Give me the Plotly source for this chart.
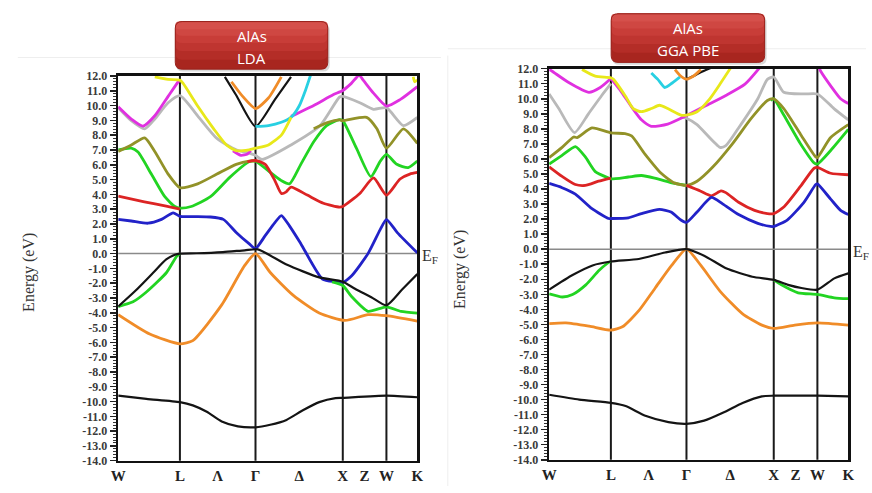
import plotly.graph_objects as go

# ---------------- k-path (high-symmetry points) ----------------
k_sym_lines = [0.707, 1.573, 2.573, 3.073]
k_tick_vals = [0.0, 0.707, 1.14, 1.573, 2.073, 2.573, 2.823, 3.073, 3.427]
k_tick_text = ["W", "L", "Λ", "Γ", "Δ", "X", "Z", "W", "K"]
k_max = 3.427
energy_ticks = list(range(-14, 13))
energy_labels = [f"{v:.1f}" for v in energy_ticks]
panel_titles = [("AlAs", "LDA"), ("AlAs", "GGA PBE")]

# ---------------- LDA bands ----------------
lda_magenta1_k = [0, 0.15, 0.284, 0.419, 0.572, 0.688, 0.707]
lda_magenta1_e = [9.92, 9.09, 8.61, 9.31, 10.62, 11.61, 11.72]
lda_magenta2_k = [1.315, 1.407, 1.481, 1.518]
lda_magenta2_e = [6.95, 6.64, 6.73, 6.95]
lda_magenta3_k = [1.98, 2.24, 2.462, 2.573, 2.671, 2.76, 2.807, 2.925, 3.073, 3.229, 3.427]
lda_magenta3_e = [9.27, 10.01, 10.73, 11.02, 11.5, 12.05, 11.72, 10.84, 9.97, 10.4, 11.28]

lda_gray_k = [0, 0.15, 0.304, 0.419, 0.572, 0.707, 0.91, 1.131, 1.352, 1.499, 1.573, 1.647,
              1.98, 2.314, 2.536, 2.573, 2.768, 2.925, 3.073, 3.267, 3.427]
lda_gray_e = [9.86, 8.98, 8.43, 9.09, 10.19, 10.67, 9.31, 7.78, 7.01, 6.79, 6.64, 6.36,
              7.34, 8.65, 10.58, 10.62, 10.19, 9.75, 9.86, 8.65, 9.2]

lda_yellow1_k = [0.419, 0.572, 0.707, 0.744, 0.91, 1.094, 1.24, 1.352, 1.499, 1.573, 1.721,
                 1.869, 1.962, 1.98]
lda_yellow1_e = [11.94, 11.77, 11.72, 11.5, 9.97, 8.43, 7.34, 6.95, 7.01, 7.12, 7.34,
                 8.0, 8.98, 9.2]
lda_yellow2_k = [3.38, 3.397, 3.427]
lda_yellow2_e = [11.95, 11.61, 11.72]

lda_cyan_k = [1.573, 1.721, 1.869, 1.98, 2.073, 2.147, 2.203]
lda_cyan_e = [8.59, 8.65, 8.87, 9.2, 9.97, 11.06, 12.04]

lda_black_top_k = [1.222, 1.352, 1.573, 1.795, 1.98]
lda_black_top_e = [11.94, 10.7, 8.59, 10.4, 11.94]

lda_orange_top_k = [1.297, 1.426, 1.573, 1.721, 1.869]
lda_orange_top_e = [11.61, 10.62, 9.8, 10.51, 11.94]

lda_olive1_k = [0, 0.15, 0.304, 0.419, 0.572, 0.707, 0.91, 1.131, 1.352, 1.499, 1.573]
lda_olive1_e = [6.9, 7.34, 7.82, 6.9, 5.37, 4.45, 4.71, 5.37, 6.03, 6.25, 6.25]
lda_olive2_k = [2.24, 2.388, 2.536, 2.573, 2.846, 2.964, 3.073, 3.267, 3.427]
lda_olive2_e = [8.43, 8.83, 9.03, 8.98, 9.2, 8.43, 7.12, 8.43, 7.45]

lda_green_k = [0, 0.15, 0.227, 0.38, 0.534, 0.649, 0.707, 0.836, 1.057, 1.278, 1.499, 1.573,
               1.721, 1.869, 1.962, 2.092, 2.24, 2.388, 2.536, 2.573, 2.729, 2.895, 3.003,
               3.073, 3.192, 3.323, 3.427]
lda_green_e = [7.01, 7.12, 6.86, 5.37, 3.84, 3.18, 3.07, 3.18, 3.84, 5.15, 6.2, 6.25,
               5.59, 4.93, 4.71, 6.03, 7.56, 8.65, 9.05, 8.98, 7.12, 5.2, 6.25,
               6.7, 6.03, 5.81, 6.25]

lda_red1_k = [0, 0.3, 0.55, 0.707]
lda_red1_e = [3.88, 3.5, 3.2, 3.0]
lda_red2_k = [1.481, 1.573, 1.684, 1.795, 1.869, 1.925, 1.98, 2.166, 2.351, 2.536, 2.573,
              2.768, 2.925, 3.073, 3.229, 3.341, 3.427]
lda_red2_e = [6.2, 6.29, 6.03, 4.93, 4.06, 4.17, 4.49, 3.95, 3.4, 3.14, 3.18,
              4.06, 5.11, 3.95, 5.04, 5.37, 5.48]

lda_blue_k = [0, 0.15, 0.342, 0.496, 0.63, 0.707, 0.873, 1.057, 1.204, 1.352, 1.499, 1.573,
              1.684, 1.795, 1.869, 1.962, 2.092, 2.34, 2.486, 2.573, 2.675, 2.865, 3.0,
              3.073, 3.2, 3.427]
lda_blue_e = [2.31, 2.2, 2.05, 2.31, 2.75, 2.52, 2.5, 2.47, 2.31, 1.43, 0.67, 0.34,
              1.21, 2.09, 2.57, 1.87, 0.67, -1.72, -1.9, -1.94, -1.5, 0.03, 1.6,
              2.3, 1.4, 0.05]

lda_black_val_k = [0, 0.2, 0.4, 0.55, 0.65, 0.707, 0.9, 1.2, 1.45, 1.6, 1.928, 2.303, 2.573,
                   2.713, 2.9, 3.073, 3.25, 3.427]
lda_black_val_e = [-3.58, -2.5, -1.3, -0.4, -0.08, 0, 0.02, 0.1, 0.22, 0.28, -0.74, -1.61, -1.9,
                   -2.38, -2.95, -3.5, -2.45, -1.39]

lda_green_val1_k = [0, 0.17, 0.323, 0.554, 0.669, 0.707]
lda_green_val1_e = [-3.58, -3.26, -2.6, -1.28, -0.19, 0]
lda_green_val2_k = [2.45, 2.573, 2.676, 2.862, 3.073, 3.24, 3.427]
lda_green_val2_e = [-1.92, -2.16, -2.92, -3.9, -3.6, -3.91, -4.02]

lda_orange_val_k = [0, 0.361, 0.707, 0.855, 1.186, 1.444, 1.573, 1.742, 2.003, 2.303, 2.6,
                    2.862, 3.073, 3.427]
lda_orange_val_e = [-4.13, -5.44, -6.1, -5.88, -3.47, -0.85, 0, -1.28, -2.81, -4.02, -4.52,
                    -4.13, -4.2, -4.57]

lda_black_low_k = [0, 0.323, 0.707, 0.855, 1.015, 1.186, 1.371, 1.573, 1.742, 1.928, 2.116,
                   2.303, 2.49, 2.573, 3.073, 3.427]
lda_black_low_e = [-9.6, -9.82, -10.04, -10.26, -10.69, -11.35, -11.68, -11.74, -11.57, -11.24,
                   -10.59, -10.04, -9.77, -9.75, -9.6, -9.71]

# ---------------- GGA PBE bands ----------------
gga_magenta1_k = [0, 0.034, 0.224, 0.456, 0.585, 0.707]
gga_magenta1_e = [11.95, 11.83, 11.08, 10.43, 10.75, 11.35]
gga_magenta2_k = [0.707, 0.831, 0.944, 1.057, 1.17, 1.358, 1.573, 1.804, 2.024, 2.243, 2.408]
gga_magenta2_e = [11.35, 10.43, 9.46, 8.6, 8.17, 8.32, 8.88, 9.57, 10.22, 10.97, 12.04]
gga_magenta3_k = [3.092, 3.111, 3.225, 3.339, 3.427]
gga_magenta3_e = [12.05, 11.83, 10.86, 10.0, 9.68]

gga_yellow_k = [0.376, 0.528, 0.707, 0.737, 0.869, 0.963, 1.057, 1.17, 1.264, 1.358, 1.509,
                1.573, 1.694, 1.84, 1.969, 2.078]
gga_yellow_e = [11.94, 11.5, 11.4, 11.29, 10.22, 9.35, 9.14, 9.35, 9.57, 9.35, 8.92,
                8.92, 9.14, 10.0, 11.08, 12.04]

gga_cyan_k = [1.17, 1.245, 1.325, 1.41, 1.5]
gga_cyan_e = [11.72, 11.29, 10.75, 11.05, 11.45]

gga_orange_top_k = [1.442, 1.5, 1.573, 1.65, 1.738]
gga_orange_top_e = [11.94, 11.55, 11.31, 11.5, 11.94]

gga_black_top_k = [1.573, 1.65, 1.72, 1.85]
gga_black_top_e = [11.33, 11.5, 11.72, 12.05]

gga_gray1_k = [0, 0.11, 0.29, 0.45, 0.6, 0.707]
gga_gray1_e = [10.32, 9.35, 7.75, 9.0, 10.2, 11.0]
gga_gray2_k = [1.509, 1.573, 1.694, 1.958, 2.024, 2.17, 2.39, 2.5, 2.573, 2.688, 2.919, 3.073,
               3.263, 3.427]
gga_gray2_e = [8.8, 8.71, 8.28, 6.77, 6.88, 8.06, 10.0, 11.29, 11.45, 10.43, 10.32, 10.32,
               9.35, 8.6]

gga_olive_k = [0, 0.148, 0.281, 0.319, 0.49, 0.707, 0.869, 0.944, 1.095, 1.283, 1.434, 1.573,
               1.694, 1.877, 2.097, 2.317, 2.5, 2.573, 2.688, 2.881, 3.054, 3.073, 3.225, 3.427]
gga_olive_e = [6.09, 6.77, 7.46, 7.42, 8.06, 7.74, 7.68, 7.53, 6.34, 5.05, 4.41, 4.24,
               4.52, 5.48, 6.99, 8.71, 9.89, 10.0, 9.35, 7.63, 6.13, 6.09, 7.42, 8.28]

gga_green1_k = [0, 0.148, 0.30, 0.414, 0.528, 0.68, 0.707, 0.907, 1.057, 1.208, 1.434, 1.573]
gga_green1_e = [5.66, 6.24, 6.82, 6.13, 5.16, 4.73, 4.67, 4.8, 4.9, 4.73, 4.37, 4.24]
gga_green2_k = [2.536, 2.573, 2.688, 2.881, 3.035, 3.073, 3.225, 3.427]
gga_green2_e = [9.89, 10.0, 8.92, 6.99, 5.74, 5.66, 6.56, 7.96]

gga_red1_k = [0, 0.148, 0.30, 0.414, 0.566, 0.707]
gga_red1_e = [5.48, 4.84, 4.3, 4.24, 4.52, 4.73]
gga_red2_k = [1.573, 1.731, 1.859, 1.969, 2.024, 2.17, 2.353, 2.5, 2.573, 2.688, 2.881, 3.035,
              3.073, 3.225, 3.427]
gga_red2_e = [4.24, 3.87, 3.55, 3.87, 3.76, 3.12, 2.58, 2.37, 2.37, 2.8, 4.19, 5.38,
              5.44, 5.05, 4.95]

gga_blue_k = [0, 0.148, 0.30, 0.49, 0.68, 0.707, 0.907, 1.057, 1.264, 1.396, 1.509, 1.573,
              1.694, 1.859, 1.987, 2.17, 2.39, 2.536, 2.573, 2.727, 2.919, 3.054, 3.073,
              3.225, 3.339, 3.427]
gga_blue_e = [4.37, 4.09, 3.66, 2.69, 2.04, 2.04, 2.09, 2.37, 2.65, 2.47, 1.94, 1.78,
              2.47, 3.44, 3.01, 2.3, 1.72, 1.51, 1.51, 1.94, 3.12, 4.3, 4.34,
              3.33, 2.58, 2.3]

gga_black_val_k = [0, 0.268, 0.497, 0.707, 1.027, 1.328, 1.573, 1.775, 2.033, 2.327, 2.573,
                   2.737, 2.89, 3.073, 3.267, 3.427]
gga_black_val_e = [-2.69, -1.72, -1.08, -0.82, -0.65, -0.22, 0, -0.43, -1.29, -1.83, -2.04,
                   -2.37, -2.58, -2.69, -1.94, -1.61]

gga_green_val1_k = [0, 0.153, 0.268, 0.42, 0.573, 0.688, 0.707]
gga_green_val1_e = [-2.97, -3.18, -3.01, -2.37, -1.4, -0.86, -0.82]
gga_green_val2_k = [2.573, 2.661, 2.852, 3.073, 3.267, 3.427]
gga_green_val2_e = [-2.04, -2.37, -2.9, -3.01, -3.23, -3.29]

gga_orange_val_k = [0, 0.191, 0.459, 0.707, 0.839, 1.027, 1.215, 1.403, 1.573, 1.738, 1.959,
                    2.216, 2.437, 2.573, 2.813, 3.073, 3.427]
gga_orange_val_e = [-4.95, -4.9, -5.12, -5.38, -5.16, -4.09, -2.58, -1.08, 0, -1.08, -2.8,
                    -4.3, -5.05, -5.27, -5.05, -4.9, -5.05]

gga_black_low_k = [0, 0.344, 0.707, 0.876, 1.102, 1.366, 1.573, 1.775, 1.996, 2.216, 2.437,
                   2.573, 3.073, 3.427]
gga_black_low_e = [-9.68, -10.0, -10.22, -10.43, -11.08, -11.5, -11.61, -11.4, -10.86, -10.22,
                   -9.78, -9.74, -9.74, -9.78]

# ---------------- styling ----------------
C = dict(magenta="#e030e0", gray="#b9b9b9", yellow="#e8e81a", cyan="#28d0e2",
         black="#141414", orange="#f08c28", olive="#929228", green="#22d422",
         red="#dc2424", blue="#2222c8")

lda_bands = [
    (lda_gray_k, lda_gray_e, "gray"),
    (lda_magenta1_k, lda_magenta1_e, "magenta"),
    (lda_magenta2_k, lda_magenta2_e, "magenta"),
    (lda_magenta3_k, lda_magenta3_e, "magenta"),
    (lda_black_top_k, lda_black_top_e, "black"),
    (lda_orange_top_k, lda_orange_top_e, "orange"),
    (lda_cyan_k, lda_cyan_e, "cyan"),
    (lda_yellow1_k, lda_yellow1_e, "yellow"),
    (lda_yellow2_k, lda_yellow2_e, "yellow"),
    (lda_green_k, lda_green_e, "green"),
    (lda_olive1_k, lda_olive1_e, "olive"),
    (lda_olive2_k, lda_olive2_e, "olive"),
    (lda_red1_k, lda_red1_e, "red"),
    (lda_red2_k, lda_red2_e, "red"),
    (lda_blue_k, lda_blue_e, "blue"),
    (lda_orange_val_k, lda_orange_val_e, "orange"),
    (lda_green_val1_k, lda_green_val1_e, "green"),
    (lda_green_val2_k, lda_green_val2_e, "green"),
    (lda_black_val_k, lda_black_val_e, "black"),
    (lda_black_low_k, lda_black_low_e, "black"),
]
gga_bands = [
    (gga_gray1_k, gga_gray1_e, "gray"),
    (gga_gray2_k, gga_gray2_e, "gray"),
    (gga_magenta1_k, gga_magenta1_e, "magenta"),
    (gga_magenta2_k, gga_magenta2_e, "magenta"),
    (gga_magenta3_k, gga_magenta3_e, "magenta"),
    (gga_cyan_k, gga_cyan_e, "cyan"),
    (gga_black_top_k, gga_black_top_e, "black"),
    (gga_orange_top_k, gga_orange_top_e, "orange"),
    (gga_yellow_k, gga_yellow_e, "yellow"),
    (gga_green1_k, gga_green1_e, "green"),
    (gga_green2_k, gga_green2_e, "green"),
    (gga_olive_k, gga_olive_e, "olive"),
    (gga_red1_k, gga_red1_e, "red"),
    (gga_red2_k, gga_red2_e, "red"),
    (gga_blue_k, gga_blue_e, "blue"),
    (gga_orange_val_k, gga_orange_val_e, "orange"),
    (gga_green_val1_k, gga_green_val1_e, "green"),
    (gga_green_val2_k, gga_green_val2_e, "green"),
    (gga_black_val_k, gga_black_val_e, "black"),
    (gga_black_low_k, gga_black_low_e, "black"),
]

fig = go.Figure()
for bands, xa, ya in [(lda_bands, "x", "y"), (gga_bands, "x2", "y2")]:
    for kk, ee, col in bands:
        w = 2.2 if col == "black" else 2.8
        fig.add_trace(go.Scatter(x=kk, y=ee, mode="lines", xaxis=xa, yaxis=ya,
                                 line=dict(color=C[col], width=w, shape="spline", smoothing=0.6),
                                 hoverinfo="skip", showlegend=False))

W, H = 872, 493
SERIF = "Liberation Serif"
panels = [
    dict(xd=[112 / W, 416 / W], yd=[1 - 467 / H, 1 - 71 / H]),
    dict(xd=[550 / W, 854 / W], yd=[1 - 466 / H, 1 - 63.5 / H]),
]

layout = dict(width=W, height=H, margin=dict(l=0, r=0, t=0, b=0),
              paper_bgcolor="white", plot_bgcolor="white", showlegend=False)
for i, p in enumerate(panels):
    sx = "" if i == 0 else "2"
    layout["xaxis" + sx] = dict(
        domain=p["xd"], range=[0, k_max], anchor="y" + sx,
        tickvals=k_tick_vals, ticktext=k_tick_text, ticks="",
        tickfont=dict(family=SERIF, size=15, color="#222", weight="bold"),
        showline=True, mirror=True, linecolor="#111", linewidth=2.5,
        showgrid=False, zeroline=False, fixedrange=True)
    layout["yaxis" + sx] = dict(
        domain=p["yd"], range=[-14, 12], anchor="x" + sx,
        tickvals=energy_ticks, ticktext=energy_labels,
        ticks="outside", ticklen=6, tickwidth=1.5, tickcolor="#222",
        minor=dict(dtick=0.2, ticks="outside", ticklen=3, tickwidth=1, tickcolor="#333"),
        tickfont=dict(family=SERIF, size=12, color="#3a3a3a", weight="bold"),
        showline=True, mirror=True, linecolor="#111", linewidth=2.5,
        showgrid=False, zeroline=False, fixedrange=True)

shapes = []
annotations = []
for i, p in enumerate(panels):
    sx = "" if i == 0 else "2"
    for kv in k_sym_lines:
        shapes.append(dict(type="line", xref="x" + sx, yref="y" + sx + " domain",
                           x0=kv, x1=kv, y0=0, y1=1, layer="below",
                           line=dict(color="#1a1a1a", width=2)))
    shapes.append(dict(type="line", xref="x" + sx + " domain", yref="y" + sx,
                       x0=0, x1=1, y0=0, y1=0, layer="below",
                       line=dict(color="#8a8a8a", width=1.5)))
    annotations.append(dict(xref="x" + sx + " domain", yref="y" + sx, x=1.0, y=-0.2,
                            xanchor="left", yanchor="middle", xshift=3,
                            text="E<sub>F</sub>", showarrow=False,
                            font=dict(family=SERIF, size=16, color="#333")))

# faint image frames
shapes.append(dict(type="line", xref="paper", yref="paper", x0=10 / W, x1=440 / W,
                   y0=1 - 52 / H, y1=1 - 52 / H, line=dict(color="#eeeeee", width=1)))
shapes.append(dict(type="line", xref="paper", yref="paper", x0=447 / W, x1=1,
                   y0=1 - 43 / H, y1=1 - 43 / H, line=dict(color="#eeeeee", width=1)))
shapes.append(dict(type="line", xref="paper", yref="paper", x0=447 / W, x1=447 / W,
                   y0=0, y1=1 - 50 / H, line=dict(color="#eeeeee", width=1)))


def rounded(x0, y0, x1, y1, r=7):
    # pixel box -> paper path
    fx = lambda v: v / W
    fy = lambda v: 1 - v / H
    r = min(r, (y1 - y0) / 2)
    return (f"M {fx(x0 + r)},{fy(y0)} L {fx(x1 - r)},{fy(y0)} "
            f"Q {fx(x1)},{fy(y0)} {fx(x1)},{fy(y0 + r)} L {fx(x1)},{fy(y1 - r)} "
            f"Q {fx(x1)},{fy(y1)} {fx(x1 - r)},{fy(y1)} L {fx(x0 + r)},{fy(y1)} "
            f"Q {fx(x0)},{fy(y1)} {fx(x0)},{fy(y1 - r)} L {fx(x0)},{fy(y0 + r)} "
            f"Q {fx(x0)},{fy(y0)} {fx(x0 + r)},{fy(y0)} Z")


boxes = [(170, 15, 325, 64), (613, 7, 769, 57)]
grad_layers = [(1.0, "#a8261f"), (0.8, "#b42d27"), (0.62, "#bf3530"), (0.45, "#c83d38"),
               (0.3, "#cf4742"), (0.16, "#d5504b")]
for (bx0, by0, bx1, by1), (t1, t2) in zip(boxes, panel_titles):
    shapes.append(dict(type="path", xref="paper", yref="paper",
                       path=rounded(bx0 + 1, by0 + 2, bx1 + 2, by1 + 2.5),
                       fillcolor="rgba(0,0,0,0.15)", line=dict(width=0)))
    for frac, col in grad_layers:
        shapes.append(dict(type="path", xref="paper", yref="paper",
                           path=rounded(bx0, by0, bx1, by0 + (by1 - by0) * frac),
                           fillcolor=col, line=dict(width=0)))
    shapes.append(dict(type="path", xref="paper", yref="paper", path=rounded(bx0, by0, bx1, by1),
                       fillcolor="rgba(0,0,0,0)", line=dict(color="#98231d", width=1)))
    cx = (bx0 + bx1) / 2 / W
    annotations.append(dict(xref="paper", yref="paper", x=cx, y=1 - (by0 + 15) / H,
                            text=t1, showarrow=False, xanchor="center", yanchor="middle",
                            font=dict(family="Open Sans", size=15, color="white")))
    annotations.append(dict(xref="paper", yref="paper", x=cx, y=1 - (by0 + 37) / H,
                            text=t2, showarrow=False, xanchor="center", yanchor="middle",
                            font=dict(family="Open Sans", size=15, color="white")))

for xc, yc in [(22, 273), (460, 270)]:
    annotations.append(dict(xref="paper", yref="paper", x=xc / W, y=1 - yc / H,
                            text="Energy (eV)", textangle=-90, showarrow=False,
                            xanchor="center", yanchor="middle",
                            font=dict(family=SERIF, size=16, color="#333")))

layout["shapes"] = shapes
layout["annotations"] = annotations
fig.update_layout(**layout)
fig.write_html("out.html",
               config={"displayModeBar": False, "staticPlot": True},
               post_script="document.body.style.margin='0';document.body.style.padding='0';"
                           "document.body.style.overflow='hidden';"
                           "document.documentElement.style.overflow='hidden';")
